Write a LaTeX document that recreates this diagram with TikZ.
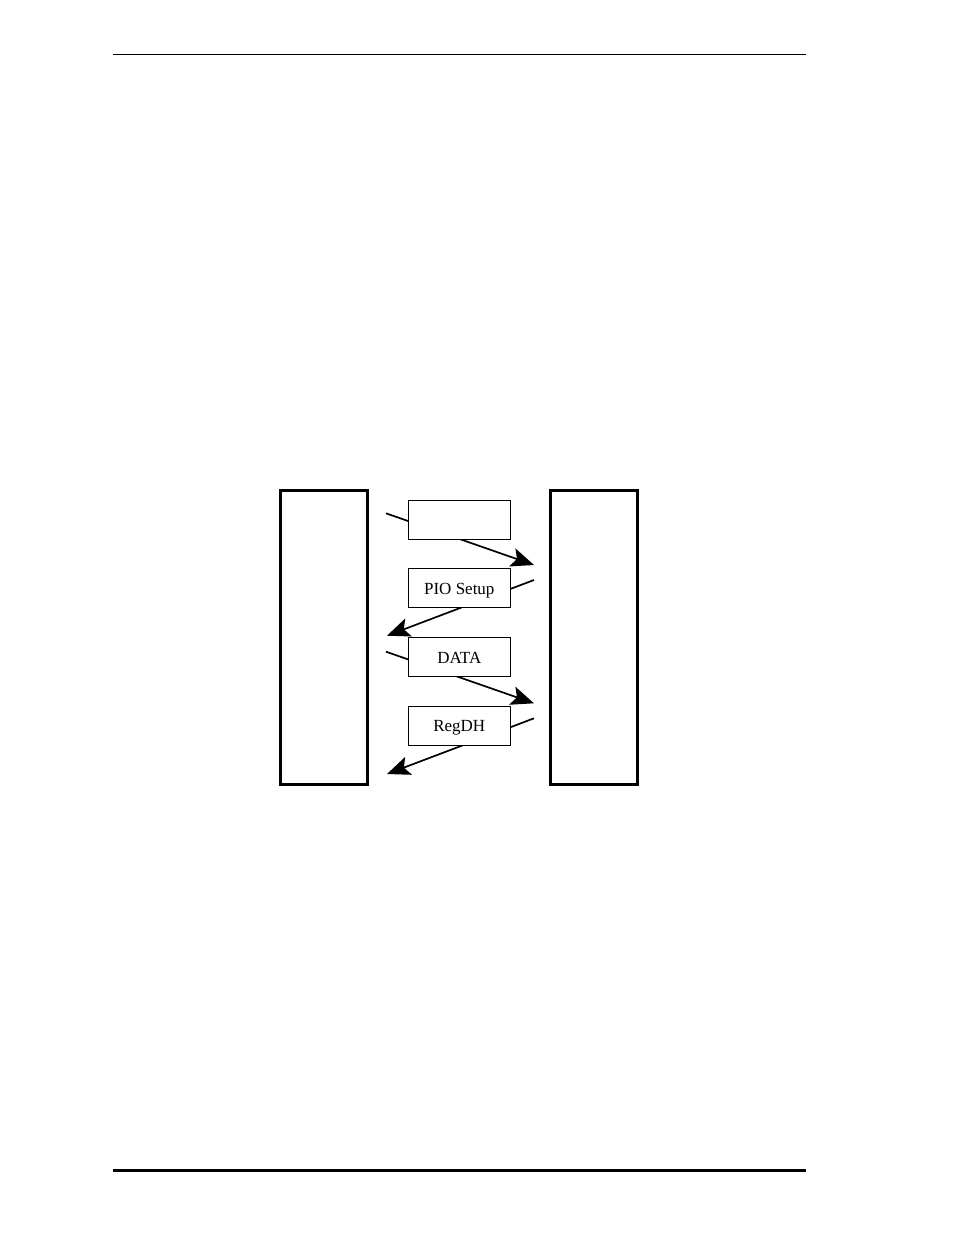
\documentclass[tikz,border=0pt]{standalone}
\usepackage{fontspec}
\setmainfont{Liberation Serif}
\usetikzlibrary{arrows.meta}
\begin{document}
\begin{tikzpicture}[x=1pt,y=-1pt,
  rule/.style={line width=1.4pt},
  bigcol/.style={draw,line width=3pt,minimum width=87pt,minimum height=294pt,inner sep=0pt},
  msg/.style={draw,fill=white,line width=1pt,minimum width=102pt,minimum height=39pt,inner sep=0pt,
    text height=12pt,text depth=0pt,font=\fontsize{17}{19}\selectfont},
  flow/.style={line width=1.7pt,-{Stealth[length=23pt,width=19pt,inset=5pt]}}
]
\useasboundingbox (0,0) rectangle (954,1235);
% header / footer rules
\coordinate (t1) at (113,54.3);
\coordinate (t2) at (806,54.3);
\coordinate (f1) at (113,1170.5);
\coordinate (f2) at (806,1170.5);
\draw[rule] (t1) -- (t2);
\draw[line width=2.2pt] (f1) -- (f2);
% columns
\node[bigcol] (L) at (323.7,637.8) {};
\node[bigcol] (R) at (594.2,637.8) {};
% arrow end points
\coordinate (a1s) at (386,513.3);
\coordinate (a1e) at (534,565);
\coordinate (a2s) at (534,580);
\coordinate (a2e) at (387,635.7);
\coordinate (a3s) at (386,651.7);
\coordinate (a3e) at (534,703.3);
\coordinate (a4s) at (534,718.3);
\coordinate (a4e) at (387,774);
\draw[flow] (a1s) -- (a1e);
\draw[flow] (a2s) -- (a2e);
\draw[flow] (a3s) -- (a3e);
\draw[flow] (a4s) -- (a4e);
% message boxes
\node[msg] (b1) at (459.3,519.7) {};
\node[msg] (b2) at (459.3,588.3) {PIO Setup};
\node[msg] (b3) at (459.3,657) {DATA};
\node[msg] (b4) at (459.3,725.8) {RegDH};
\end{tikzpicture}
\end{document}
